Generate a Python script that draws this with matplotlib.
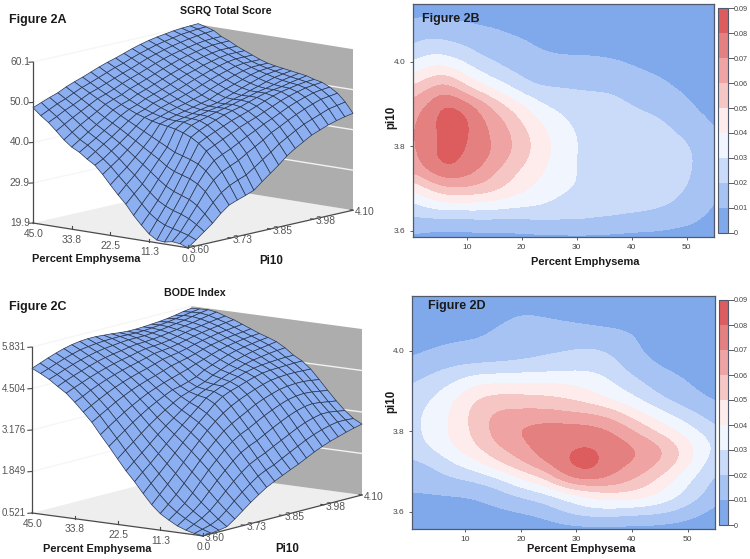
import numpy as np
from matplotlib import pyplot as plt
from matplotlib.colors import ListedColormap, BoundaryNorm
from mpl_toolkits.mplot3d import proj3d

plt.rcParams['font.family'] = ['Liberation Sans', 'DejaVu Sans']

# surface values, rows go from pi10 3.60 to 4.10, columns from emphysema 45 to 0
sgrq = np.array([
    [48.7, 47.0, 45.6, 43.8, 41.9, 40.4, 39.4, 38.0, 36.8, 34.8, 32.5, 30.3, 28.3, 25.8, 23.7, 21.8, 20.6, 20.4, 20.8, 20.6, 19.9],
    [49.5, 48.0, 46.6, 45.0, 43.3, 41.8, 40.7, 39.4, 37.9, 36.3, 34.3, 32.4, 30.4, 28.2, 26.2, 24.8, 23.8, 23.3, 22.8, 22.2, 21.4],
    [50.3, 49.0, 47.7, 46.2, 44.7, 43.2, 42.0, 40.8, 39.4, 37.8, 36.0, 34.3, 32.4, 30.6, 28.9, 27.8, 27.0, 26.4, 25.6, 24.4, 23.0],
    [51.0, 49.8, 48.6, 47.3, 45.9, 44.6, 43.4, 42.2, 40.9, 39.5, 38.0, 36.5, 35.0, 33.4, 32.0, 31.0, 30.3, 29.6, 28.4, 26.6, 24.6],
    [52.0, 50.8, 49.6, 48.4, 47.1, 45.9, 44.8, 43.7, 42.5, 41.3, 40.0, 38.8, 37.6, 36.2, 35.2, 34.6, 34.0, 33.0, 31.4, 29.0, 26.6],
    [52.8, 51.7, 50.6, 49.5, 48.4, 47.3, 46.2, 45.2, 44.2, 43.2, 42.2, 41.2, 40.2, 39.2, 38.6, 38.0, 37.2, 35.8, 33.8, 31.0, 28.2],
    [53.5, 52.4, 51.3, 50.2, 49.2, 48.2, 47.3, 46.5, 45.9, 45.3, 44.9, 44.6, 44.2, 43.6, 42.8, 41.6, 40.0, 37.9, 35.4, 32.3, 29.0],
    [54.3, 53.2, 52.1, 51.0, 49.9, 48.9, 48.0, 47.2, 46.5, 46.0, 45.6, 45.5, 45.5, 45.0, 44.0, 42.7, 41.0, 39.0, 36.4, 33.2, 29.7],
    [55.1, 54.0, 52.9, 51.9, 50.9, 49.9, 49.0, 48.2, 47.4, 46.7, 46.2, 45.9, 45.9, 45.7, 44.9, 43.6, 42.0, 39.9, 37.3, 34.0, 30.5],
    [55.8, 54.8, 53.7, 52.7, 51.6, 50.6, 49.7, 48.8, 48.0, 47.3, 46.7, 46.4, 46.4, 46.3, 45.7, 44.5, 43.0, 41.0, 38.6, 35.4, 32.2],
    [56.4, 55.4, 54.4, 53.4, 52.4, 51.4, 50.4, 49.5, 48.6, 47.8, 47.2, 46.9, 46.9, 46.9, 46.5, 45.4, 44.0, 42.1, 39.8, 36.9, 33.8],
    [57.1, 56.2, 55.2, 54.2, 53.2, 52.2, 51.2, 50.2, 49.3, 48.4, 47.7, 47.3, 47.3, 47.4, 47.1, 46.1, 44.8, 43.1, 41.0, 38.3, 35.4],
    [57.8, 56.9, 56.0, 55.0, 54.0, 53.0, 52.0, 51.0, 50.0, 49.0, 48.2, 47.7, 47.7, 47.9, 47.6, 46.8, 45.6, 44.2, 42.4, 39.9, 37.2],
    [58.4, 57.5, 56.6, 55.7, 54.7, 53.7, 52.8, 51.8, 50.8, 49.9, 49.1, 48.5, 48.4, 48.5, 48.3, 47.6, 46.5, 45.1, 43.4, 41.1, 38.6],
    [58.9, 58.1, 57.2, 56.3, 55.4, 54.4, 53.4, 52.5, 51.6, 50.7, 49.9, 49.2, 48.9, 49.0, 49.0, 48.4, 47.4, 46.1, 44.5, 42.3, 39.8],
    [59.3, 58.5, 57.7, 56.8, 55.9, 55.0, 54.1, 53.2, 52.3, 51.4, 50.6, 50.0, 49.6, 49.6, 49.6, 49.2, 48.3, 47.1, 45.5, 43.4, 41.0],
    [59.6, 58.9, 58.1, 57.2, 56.4, 55.5, 54.6, 53.8, 52.9, 52.1, 51.3, 50.7, 50.2, 50.0, 50.0, 49.8, 49.0, 47.9, 46.4, 44.2, 41.8],
    [59.9, 59.3, 58.5, 57.6, 56.8, 55.9, 55.1, 54.3, 53.5, 52.7, 52.0, 51.4, 50.9, 50.5, 50.3, 50.2, 49.6, 48.6, 47.2, 45.0, 42.6],
    [60.1, 59.5, 58.8, 57.9, 57.1, 56.2, 55.4, 54.6, 53.8, 53.1, 52.5, 52.0, 51.5, 51.1, 50.8, 50.6, 50.1, 49.2, 47.9, 45.8, 43.2],
    [60.2, 59.7, 59.0, 58.0, 57.2, 56.2, 55.4, 54.6, 53.8, 53.2, 52.7, 52.3, 51.9, 51.5, 51.2, 50.9, 50.4, 49.5, 48.2, 46.2, 43.7],
    [60.3, 59.8, 59.2, 58.0, 57.2, 56.2, 55.4, 54.6, 53.8, 53.2, 52.8, 52.5, 52.2, 51.9, 51.6, 51.0, 50.6, 49.7, 48.5, 46.6, 44.1],
])

bode = np.array([
    [5.15, 5.02, 4.87, 4.68, 4.50, 4.25, 3.97, 3.68, 3.32, 2.98, 2.62, 2.27, 1.96, 1.62, 1.30, 1.05, 0.88, 0.73, 0.63, 0.56, 0.52],
    [5.25, 5.11, 4.96, 4.79, 4.61, 4.37, 4.11, 3.83, 3.50, 3.17, 2.83, 2.50, 2.20, 1.88, 1.56, 1.28, 1.07, 0.90, 0.75, 0.63, 0.54],
    [5.35, 5.21, 5.06, 4.89, 4.71, 4.50, 4.25, 3.98, 3.67, 3.36, 3.03, 2.72, 2.42, 2.12, 1.82, 1.53, 1.28, 1.07, 0.88, 0.70, 0.57],
    [5.44, 5.30, 5.15, 4.98, 4.81, 4.61, 4.38, 4.13, 3.84, 3.55, 3.24, 2.94, 2.66, 2.38, 2.10, 1.82, 1.55, 1.29, 1.05, 0.82, 0.62],
    [5.52, 5.38, 5.23, 5.07, 4.90, 4.71, 4.50, 4.26, 3.99, 3.72, 3.44, 3.17, 2.91, 2.65, 2.39, 2.12, 1.85, 1.57, 1.29, 1.03, 0.80],
    [5.58, 5.45, 5.30, 5.15, 4.98, 4.80, 4.60, 4.38, 4.13, 3.88, 3.62, 3.38, 3.15, 2.92, 2.68, 2.42, 2.15, 1.85, 1.55, 1.27, 1.00],
    [5.62, 5.49, 5.36, 5.21, 5.05, 4.88, 4.69, 4.48, 4.26, 4.02, 3.79, 3.57, 3.38, 3.18, 2.95, 2.69, 2.41, 2.11, 1.80, 1.49, 1.20],
    [5.64, 5.52, 5.40, 5.26, 5.11, 4.95, 4.77, 4.57, 4.36, 4.15, 3.95, 3.76, 3.60, 3.43, 3.21, 2.94, 2.66, 2.35, 2.02, 1.69, 1.38],
    [5.64, 5.54, 5.43, 5.30, 5.16, 5.01, 4.84, 4.65, 4.46, 4.27, 4.09, 3.94, 3.82, 3.66, 3.44, 3.17, 2.87, 2.55, 2.21, 1.87, 1.55],
    [5.62, 5.55, 5.46, 5.35, 5.22, 5.08, 4.92, 4.74, 4.54, 4.32, 4.18, 4.10, 4.05, 3.90, 3.64, 3.34, 3.03, 2.69, 2.34, 2.00, 1.68],
    [5.60, 5.55, 5.48, 5.38, 5.27, 5.15, 5.00, 4.83, 4.62, 4.40, 4.27, 4.22, 4.19, 4.07, 3.80, 3.48, 3.15, 2.80, 2.45, 2.10, 1.80],
    [5.57, 5.54, 5.48, 5.39, 5.29, 5.18, 5.05, 4.89, 4.70, 4.49, 4.37, 4.32, 4.30, 4.18, 3.93, 3.62, 3.29, 2.94, 2.59, 2.24, 1.92],
    [5.55, 5.53, 5.48, 5.41, 5.31, 5.21, 5.09, 4.95, 4.80, 4.64, 4.51, 4.44, 4.38, 4.26, 4.04, 3.76, 3.43, 3.08, 2.72, 2.37, 2.03],
    [5.55, 5.54, 5.50, 5.44, 5.35, 5.26, 5.15, 5.02, 4.88, 4.74, 4.62, 4.54, 4.47, 4.35, 4.14, 3.87, 3.55, 3.21, 2.85, 2.50, 2.16],
    [5.56, 5.56, 5.53, 5.48, 5.40, 5.32, 5.22, 5.10, 4.97, 4.84, 4.72, 4.63, 4.55, 4.43, 4.23, 3.96, 3.66, 3.33, 2.98, 2.63, 2.29],
    [5.58, 5.59, 5.57, 5.52, 5.46, 5.38, 5.28, 5.17, 5.05, 4.93, 4.81, 4.71, 4.61, 4.49, 4.30, 4.04, 3.75, 3.43, 3.09, 2.74, 2.40],
    [5.60, 5.62, 5.61, 5.57, 5.51, 5.43, 5.33, 5.22, 5.11, 5.00, 4.88, 4.77, 4.65, 4.52, 4.33, 4.08, 3.80, 3.50, 3.17, 2.83, 2.50],
    [5.63, 5.66, 5.65, 5.61, 5.55, 5.47, 5.38, 5.27, 5.16, 5.05, 4.94, 4.81, 4.67, 4.53, 4.35, 4.10, 3.82, 3.53, 3.23, 2.90, 2.58],
    [5.67, 5.70, 5.70, 5.66, 5.59, 5.51, 5.41, 5.30, 5.20, 5.09, 4.98, 4.85, 4.69, 4.54, 4.35, 4.10, 3.80, 3.50, 3.23, 2.95, 2.66],
    [5.72, 5.74, 5.75, 5.71, 5.63, 5.55, 5.44, 5.33, 5.23, 5.13, 5.02, 4.88, 4.70, 4.55, 4.34, 4.07, 3.76, 3.46, 3.19, 2.95, 2.73],
    [5.76, 5.78, 5.79, 5.75, 5.66, 5.58, 5.47, 5.36, 5.25, 5.16, 5.06, 4.90, 4.70, 4.55, 4.33, 4.03, 3.72, 3.42, 3.15, 2.93, 2.79],
])

emph_mesh = np.linspace(45, 0, 21)
pi10_mesh = np.linspace(3.6, 4.1, 21)

emph_ticks = [45.0, 33.8, 22.5, 11.3, 0.0]
pi10_ticks = [3.60, 3.73, 3.85, 3.98, 4.10]
sgrq_ticks = [19.9, 29.9, 40.0, 50.0, 60.1]
bode_ticks = [0.521, 1.849, 3.176, 4.504, 5.831]

# density grids for the two contour panels, columns x = 0, 3, ... 57, rows y = 3.58, 3.62, ... 4.14
b_z = [
    [.007, .006, .005, .005, .006, .006, .006, .006, .006, .006, .006, .006, .006, .006, .006, .006, .006, .006, .005, .004],
    [.016, .015, .015, .015, .016, .016, .016, .017, .019, .019, .020, .019, .018, .016, .015, .014, .012, .0105, .008, .006],
    [.027, .033, .036, .036, .036, .035, .033, .032, .030, .027, .025, .024, .024, .024, .023, .0215, .019, .015, .0105, .008],
    [.040, .051, .059, .060, .058, .054, .047, .041, .036, .032, .0295, .028, .027, .026, .0255, .025, .022, .019, .013, .009],
    [.063, .072, .079, .077, .070, .061, .053, .046, .040, .034, .0295, .028, .027, .026, .0255, .025, .0225, .0205, .014, .010],
    [.067, .077, .086, .0805, .076, .069, .0605, .0515, .043, .036, .029, .028, .027, .026, .0255, .025, .024, .0205, .015, .010],
    [.068, .077, .0815, .083, .076, .068, .061, .052, .043, .0355, .0295, .028, .027, .026, .025, .0235, .0215, .0185, .013, .009],
    [.068, .076, .087, .086, .074, .066, .057, .046, .039, .032, .028, .027, .026, .0245, .0225, .0215, .0175, .0125, .0098, .007],
    [.064, .072, .082, .077, .068, .057, .046, .039, .0295, .027, .025, .0245, .024, .0205, .0185, .016, .012, .0095, .008, .006],
    [.051, .060, .066, .055, .045, .036, .030, .021, .0195, .0195, .019, .0185, .018, .016, .0135, .0115, .0095, .009, .007, .005],
    [.036, .044, .046, .038, .029, .024, .019, .0165, .015, .0145, .014, .0135, .013, .0115, .010, .009, .008, .007, .0055, .004],
    [.024, .029, .028, .024, .0195, .0165, .014, .012, .0105, .0095, .0095, .0095, .009, .008, .007, .006, .0055, .005, .004, .003],
    [.016, .0195, .018, .0165, .014, .0125, .0105, .0095, .007, .006, .006, .0055, .005, .0045, .004, .004, .0035, .003, .003, .002],
    [.0102, .0102, .0098, .009, .008, .0075, .0065, .006, .005, .004, .004, .0035, .003, .003, .003, .003, .002, .002, .002, .002],
    [.006, .006, .006, .006, .005, .005, .004, .004, .003, .003, .003, .002, .002, .002, .002, .002, .002, .002, .002, .001],
]

# columns x = 0, 4, ... 56, rows y = 3.56, 3.60, ... 4.12
d_z = [
    [.004, .004, .005, .005, .005, .005, .005, .006, .006, .006, .006, .006, .005, .005, .004],
    [.005, .006, .006, .007, .008, .0095, .013, .021, .027, .027, .024, .023, .019, .011, .006],
    [.009, .009, .0095, .010, .015, .021, .026, .033, .041, .046, .047, .041, .032, .022, .011],
    [.013, .016, .0185, .022, .028, .040, .048, .070, .075, .070, .061, .051, .037, .026, .015],
    [.0175, .020, .031, .038, .050, .060, .070, .081, .088, .075, .071, .063, .052, .034, .020],
    [.024, .032, .041, .050, .061, .066, .077, .078, .081, .077, .072, .066, .053, .037, .026],
    [.026, .034, .043, .054, .066, .0725, .076, .076, .076, .071, .062, .050, .040, .030, .021],
    [.026, .034, .042, .056, .0635, .064, .065, .0635, .062, .059, .047, .037, .028, .020, .012],
    [.024, .030, .041, .051, .055, .054, .053, .050, .046, .038, .032, .023, .016, .011, .008],
    [.019, .024, .030, .040, .040, .040, .040, .040, .036, .031, .024, .016, .012, .008, .006],
    [.012, .017, .020, .021, .022, .0235, .0245, .026, .028, .026, .015, .010, .008, .006, .005],
    [.008, .010, .012, .013, .014, .015, .018, .0195, .022, .019, .011, .008, .006, .005, .004],
    [.005, .007, .008, .0085, .012, .015, .015, .014, .013, .012, .011, .006, .004, .004, .003],
    [.003, .004, .005, .006, .008, .012, .0105, .009, .008, .007, .006, .004, .003, .003, .002],
    [.002, .002, .003, .003, .004, .006, .005, .004, .004, .003, .003, .002, .002, .002, .002],
]

levels = [0, .01, .02, .03, .04, .05, .06, .07, .08, .09]
level_labels = ['0', '0.01', '0.02', '0.03', '0.04', '0.05', '0.06', '0.07', '0.08', '0.09']
band_colors = ['#80a9ec', '#a6c3f3', '#c9dbf9', '#f0f5fe', '#fdeceb',
               '#f6c6c5', '#efa4a3', '#e58080', '#dd5c5e']

W, H = 750, 559
GRAY = '#555555'
AXIS = '#4a4a4a'

fig = plt.figure(figsize=(W / 100, H / 100), dpi=100)


def px_text(x, y, s, **kw):
    return fig.text(x / W, 1 - y / H, s, **kw)


def corner_px(ax, x, y, z):
    xs, ys, _ = proj3d.proj_transform(x, y, z, ax.get_proj())
    return ax.transData.transform((xs, ys))


def surface_panel(z_vals, z_ticks, z_fmt, z_pad, z_size, box, elev, azim, left_px, right_px):
    ax = fig.add_axes([0.1, 0.1, 0.5, 0.5 * W / H], projection='3d', proj_type='ortho')
    ax.computed_zorder = False
    ax.set_axis_off()
    ax.patch.set_alpha(0)
    ax.set_box_aspect(box)
    ax.view_init(elev=elev, azim=azim)
    z0, z1 = z_ticks[0], z_ticks[-1]
    ax.set_xlim(45, 0)
    ax.set_ylim(3.6, 4.1)
    ax.set_zlim(z0, z1)

    # floor and the two walls
    ax.plot_surface(np.array([[45, 0], [45, 0]]), np.array([[3.6, 3.6], [4.1, 4.1]]),
                    np.full((2, 2), z0), color='#eeeeee', shade=False, linewidth=0, zorder=1)
    ax.plot_surface(np.array([[45, 0], [45, 0]]), np.full((2, 2), 4.1),
                    np.array([[z0, z0], [z1, z1]]), color='#adadad', shade=False, linewidth=0, zorder=2)
    for t in z_ticks[1:-1]:
        ax.plot([45, 0], [4.1, 4.1], [t, t], color='#f2f2f2', lw=1, zorder=3)
    for t in z_ticks[1:]:
        ax.plot([45, 45], [3.6, 4.1], [t, t], color='#f6f6f6', lw=1, zorder=3)

    X, Y = np.meshgrid(emph_mesh, pi10_mesh)
    ax.plot_surface(X, Y, z_vals, rstride=1, cstride=1, color='#8bafF0', shade=False,
                    edgecolor='#2a3550', linewidth=0.5, zorder=5)

    # axis lines and ticks
    ax.plot([45, 45], [3.6, 3.6], [z0, z1], color=AXIS, lw=0.9, zorder=6)
    ax.plot([45, 0], [3.6, 3.6], [z0, z0], color=AXIS, lw=0.9, zorder=6)
    ax.plot([0, 0], [3.6, 4.1], [z0, z0], color=AXIS, lw=0.9, zorder=6)
    for t in z_ticks:
        ax.plot([45, 45.5], [3.6, 3.593], [t, t], color=AXIS, lw=0.8, zorder=6)
    for t in emph_ticks:
        ax.plot([t, t], [3.6, 3.6], [z0, z0 + (z1 - z0) * 0.018], color=AXIS, lw=0.8, zorder=6)
    for t in pi10_ticks:
        ax.plot([0.8, 0], [t, t], [z0, z0], color=AXIS, lw=0.8, zorder=6)

    # move the box so its corners land where they sit in the reference
    for _ in range(3):
        fig.canvas.draw()
        a = corner_px(ax, 45, 3.6, z0)
        b = corner_px(ax, 0, 4.1, z0)
        pos = ax.get_position()
        scale = (right_px[0] - left_px[0]) / (b[0] - a[0])
        ax.set_position([pos.x0, pos.y0, pos.width * scale, pos.height * scale])
        fig.canvas.draw()
        a = corner_px(ax, 45, 3.6, z0)
        pos = ax.get_position()
        ax.set_position([pos.x0 + (left_px[0] - a[0]) / W, pos.y0 + ((H - left_px[1]) - a[1]) / H,
                         pos.width, pos.height])
    fig.canvas.draw()

    # tick labels hang off the projected tick positions
    label = dict(color=GRAY, va='center')
    for t in z_ticks:
        p = corner_px(ax, 45, 3.6, t)
        fig.text((p[0] - z_pad) / W, p[1] / H, z_fmt % t, ha='right', fontsize=z_size, **label)
    for t in emph_ticks:
        p = corner_px(ax, t, 3.6, z0)
        fig.text((p[0] + 0.5) / W, (p[1] - 10.8) / H, '%.1f' % t, ha='center', fontsize=7.4, **label)
    for t in pi10_ticks:
        p = corner_px(ax, 0, t, z0)
        fig.text((p[0] + 2) / W, (p[1] - 2) / H, '%.2f' % t, ha='left', fontsize=7.4, **label)
    return ax


def contour_panel(rect, cbar_rect, zs, extent, xlim, ylim):
    ax = fig.add_axes([rect[0] / W, 1 - rect[3] / H, (rect[2] - rect[0]) / W, (rect[3] - rect[1]) / H])
    cmap = ListedColormap(band_colors)
    norm = BoundaryNorm(levels, cmap.N)
    im = ax.imshow(zs, origin='lower', extent=extent, aspect='auto', cmap=cmap, norm=norm,
                   interpolation='bicubic', interpolation_stage='data')
    ax.set_xlim(*xlim)
    ax.set_ylim(*ylim)
    ax.set_xticks([10, 20, 30, 40, 50])
    ax.set_yticks([3.6, 3.8, 4.0])
    ax.set_yticklabels(['3.6', '3.8', '4.0'])
    ax.tick_params(labelsize=6, colors='#444444', length=2, width=0.6, pad=3)
    for sp in ax.spines.values():
        sp.set_color('#505a6c')
        sp.set_linewidth(0.9)

    cax = fig.add_axes([cbar_rect[0] / W, 1 - cbar_rect[3] / H,
                        (cbar_rect[2] - cbar_rect[0]) / W, (cbar_rect[3] - cbar_rect[1]) / H])
    cb = fig.colorbar(im, cax=cax, ticks=levels)
    cb.ax.set_yticklabels(level_labels)
    cb.ax.tick_params(labelsize=5.2, colors='#444444', length=4, width=0.6, pad=0.5)
    cb.outline.set_edgecolor('#505a6c')
    cb.outline.set_linewidth(0.8)
    return ax


surface_panel(sgrq, sgrq_ticks, '%.1f', 3, 7.4, (202, 257, 164), 11, -50, (33, 223), (353, 210))
surface_panel(bode, bode_ticks, '%.3f', 6, 7.0, (211, 272, 169), 10.7, -54.2, (32, 513), (362, 495))

contour_panel((412.5, 4, 714, 237), (718.3, 8.3, 727.7, 232.7), b_z,
              (-1.5, 58.5, 3.56, 4.16), (0.15, 55), (3.585, 4.137))
contour_panel((411.7, 295.7, 715.3, 529), (718.7, 300, 728, 525), d_z,
              (-2, 58, 3.54, 4.14), (0.35, 55), (3.557, 4.137))

bold = dict(fontweight='bold', color='#1a1a1a', va='center')
px_text(9, 19.5, 'Figure 2A', fontsize=9, ha='left', **bold)
px_text(225.7, 11, 'SGRQ Total Score', fontsize=7.7, ha='center', **bold)
px_text(86, 259, 'Percent Emphysema', fontsize=7.9, ha='center', **bold)
px_text(271, 261, 'Pi10', fontsize=8.3, ha='center', **bold)

px_text(9, 307, 'Figure 2C', fontsize=9, ha='left', **bold)
px_text(195, 293, 'BODE Index', fontsize=7.7, ha='center', **bold)
px_text(97, 549, 'Percent Emphysema', fontsize=7.9, ha='center', **bold)
px_text(287, 549, 'Pi10', fontsize=8.3, ha='center', **bold)

px_text(421.7, 19, 'Figure 2B', fontsize=9, ha='left', **bold)
px_text(585.7, 262, 'Percent Emphysema', fontsize=7.9, ha='center', **bold)
px_text(391.7, 117, 'pi10', fontsize=8.3, ha='center', rotation=90, **bold)

px_text(427.7, 306, 'Figure 2D', fontsize=9, ha='left', **bold)
px_text(581.7, 549, 'Percent Emphysema', fontsize=7.9, ha='center', **bold)
px_text(391.7, 401.7, 'pi10', fontsize=8.3, ha='center', rotation=90, **bold)

fig.savefig('out.png', dpi=100)
